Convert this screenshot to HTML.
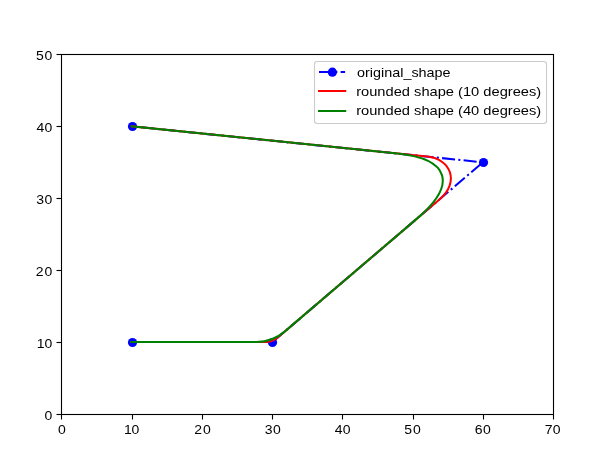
<!DOCTYPE html><html><head><meta charset="utf-8"><style>html,body{margin:0;padding:0;background:#fff}svg{display:block;will-change:transform}text{font-family:"Liberation Sans",sans-serif;font-size:13.3px;fill:#000}text.t{font-size:13.1px}</style></head><body>
<svg width="614" height="460" viewBox="0 0 614 460">
<rect width="614" height="460" fill="#fff"/>
<path d="M131.59 126.30 L482.90 162.30 L272.11 342.30 M272.11 342.0 L131.59 342.0" fill="none" stroke="#0000ff" stroke-width="2.05" stroke-dasharray="13.06 3.26 2.04 3.26" stroke-dashoffset="12.18" stroke-linejoin="round"/>
<circle cx="132.50" cy="126.50" r="4.6" fill="#0000ff"/>
<circle cx="483.50" cy="162.50" r="4.6" fill="#0000ff"/>
<circle cx="272.50" cy="342.50" r="4.6" fill="#0000ff"/>
<circle cx="132.50" cy="342.50" r="4.6" fill="#0000ff"/>
<path d="M131.59 126.30 L427.19 156.59 C451.70 159.10 459.05 182.66 440.31 198.67 L277.71 337.52 C274.33 340.41 270.02 342.00 265.57 342.00 L131.09 342.00" fill="none" stroke="#ff0000" stroke-width="2.05" stroke-linejoin="round" stroke-linecap="square"/>
<path d="M131.59 126.30 L397.35 153.53 C449.53 158.88 457.39 184.08 417.50 218.15 L284.63 331.61 C276.60 338.47 267.03 342.00 256.47 342.00 L131.09 342.00" fill="none" stroke="#008000" stroke-width="2.05" stroke-linejoin="round" stroke-linecap="square"/>
<rect x="61.5" y="54.5" width="492.0" height="360.0" fill="none" stroke="#000" stroke-width="1.1"/>
<line x1="61.50" y1="414.5" x2="61.50" y2="419.5" stroke="#000" stroke-width="1.1"/>
<text class="t" transform="translate(61.95 434.2) scale(1.07 1)" text-anchor="middle">0</text>
<line x1="132.50" y1="414.5" x2="132.50" y2="419.5" stroke="#000" stroke-width="1.1"/>
<text class="t" transform="translate(127.80 434.2) scale(1.07 1)" text-anchor="middle">1</text>
<text class="t" transform="translate(135.50 434.2) scale(1.07 1)" text-anchor="middle">0</text>
<line x1="202.50" y1="414.5" x2="202.50" y2="419.5" stroke="#000" stroke-width="1.1"/>
<text class="t" transform="translate(198.15 434.2) scale(1.07 1)" text-anchor="middle">2</text>
<text class="t" transform="translate(206.85 434.2) scale(1.07 1)" text-anchor="middle">0</text>
<line x1="272.50" y1="414.5" x2="272.50" y2="419.5" stroke="#000" stroke-width="1.1"/>
<text class="t" transform="translate(268.69 434.2) scale(1.07 1)" text-anchor="middle">3</text>
<text class="t" transform="translate(276.89 434.2) scale(1.07 1)" text-anchor="middle">0</text>
<line x1="342.50" y1="414.5" x2="342.50" y2="419.5" stroke="#000" stroke-width="1.1"/>
<text class="t" transform="translate(338.55 434.2) scale(1.07 1)" text-anchor="middle">4</text>
<text class="t" transform="translate(346.65 434.2) scale(1.07 1)" text-anchor="middle">0</text>
<line x1="413.50" y1="414.5" x2="413.50" y2="419.5" stroke="#000" stroke-width="1.1"/>
<text class="t" transform="translate(408.20 434.2) scale(1.07 1)" text-anchor="middle">5</text>
<text class="t" transform="translate(416.80 434.2) scale(1.07 1)" text-anchor="middle">0</text>
<line x1="483.50" y1="414.5" x2="483.50" y2="419.5" stroke="#000" stroke-width="1.1"/>
<text class="t" transform="translate(478.70 434.2) scale(1.07 1)" text-anchor="middle">6</text>
<text class="t" transform="translate(486.90 434.2) scale(1.07 1)" text-anchor="middle">0</text>
<line x1="553.50" y1="414.5" x2="553.50" y2="419.5" stroke="#000" stroke-width="1.1"/>
<text class="t" transform="translate(548.60 434.2) scale(1.07 1)" text-anchor="middle">7</text>
<text class="t" transform="translate(556.60 434.2) scale(1.07 1)" text-anchor="middle">0</text>
<line x1="56.5" y1="414.50" x2="61.5" y2="414.50" stroke="#000" stroke-width="1.1"/>
<text class="t" transform="translate(48.45 420.30) scale(1.07 1)" text-anchor="middle">0</text>
<line x1="56.5" y1="342.50" x2="61.5" y2="342.50" stroke="#000" stroke-width="1.1"/>
<text class="t" transform="translate(40.75 348.30) scale(1.07 1)" text-anchor="middle">1</text>
<text class="t" transform="translate(48.45 348.30) scale(1.07 1)" text-anchor="middle">0</text>
<line x1="56.5" y1="270.50" x2="61.5" y2="270.50" stroke="#000" stroke-width="1.1"/>
<text class="t" transform="translate(39.75 276.30) scale(1.07 1)" text-anchor="middle">2</text>
<text class="t" transform="translate(48.45 276.30) scale(1.07 1)" text-anchor="middle">0</text>
<line x1="56.5" y1="198.50" x2="61.5" y2="198.50" stroke="#000" stroke-width="1.1"/>
<text class="t" transform="translate(40.25 204.30) scale(1.07 1)" text-anchor="middle">3</text>
<text class="t" transform="translate(48.45 204.30) scale(1.07 1)" text-anchor="middle">0</text>
<line x1="56.5" y1="126.50" x2="61.5" y2="126.50" stroke="#000" stroke-width="1.1"/>
<text class="t" transform="translate(40.35 132.30) scale(1.07 1)" text-anchor="middle">4</text>
<text class="t" transform="translate(48.45 132.30) scale(1.07 1)" text-anchor="middle">0</text>
<line x1="56.5" y1="54.50" x2="61.5" y2="54.50" stroke="#000" stroke-width="1.1"/>
<text class="t" transform="translate(39.85 60.30) scale(1.07 1)" text-anchor="middle">5</text>
<text class="t" transform="translate(48.45 60.30) scale(1.07 1)" text-anchor="middle">0</text>
<rect x="314.5" y="61.5" width="232" height="62" rx="2.7" ry="2.7" fill="#fff" fill-opacity="0.8" stroke="#cccccc" stroke-width="1.1"/>
<path d="M319.0 72.0 L345.1 72.0" fill="none" stroke="#0000ff" stroke-width="2.05" stroke-dasharray="13.06 3.26 2.04 3.26"/>
<circle cx="332.4" cy="72.2" r="4.6" fill="#0000ff"/>
<path d="M319.0 91.0 L345.2 91.0" fill="none" stroke="#ff0000" stroke-width="2.05" stroke-linecap="square"/>
<path d="M319.0 111.0 L345.2 111.0" fill="none" stroke="#008000" stroke-width="2.05" stroke-linecap="square"/>
<text x="357.0" y="76.7" textLength="93.6" lengthAdjust="spacingAndGlyphs">original_shape</text>
<text x="356.2" y="95.7" textLength="185.0" lengthAdjust="spacingAndGlyphs">rounded shape (10 degrees)</text>
<text x="356.2" y="115.4" textLength="185.0" lengthAdjust="spacingAndGlyphs">rounded shape (40 degrees)</text>
</svg></body></html>
